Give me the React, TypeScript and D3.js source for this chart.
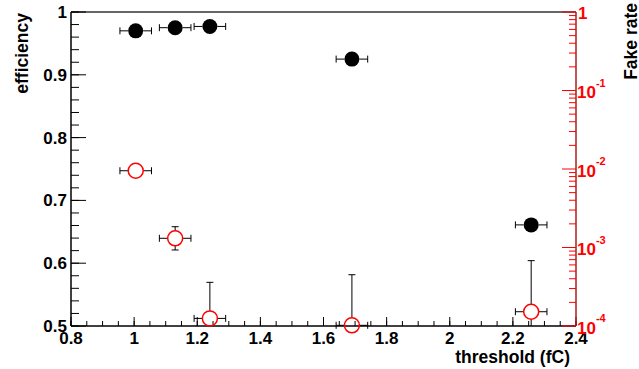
import React from "react";
import * as d3 from "d3";

// ---- data ----
const thresholds = [1.005, 1.13, 1.24, 1.69, 2.258];
const thresholdErr = [0.05, 0.05, 0.05, 0.05, 0.05];
const efficiency = [0.970, 0.975, 0.977, 0.925, 0.661];
const efficiencyErr = [0.003, 0.003, 0.003, 0.004, 0.006];
const fakeRate = [0.0095, 0.00131, 0.000125, 0.000102, 0.000152];
const fakeRateHigh = [0.0105, 0.00184, 0.00036, 0.00045, 0.00068];
const fakeRateLow = [0.0086, 0.00093, 0.00005, 0.00005, 0.00005];

const xTickValues = [0.8, 1.0, 1.2, 1.4, 1.6, 1.8, 2.0, 2.2, 2.4];
const xTickLabels = ["0.8", "1", "1.2", "1.4", "1.6", "1.8", "2", "2.2", "2.4"];
const yTickValues = [0.5, 0.6, 0.7, 0.8, 0.9, 1.0];
const yTickLabels = ["0.5", "0.6", "0.7", "0.8", "0.9", "1"];
const rightExponents = [-4, -3, -2, -1, 0];

const W = 639;
const H = 369;
const L = 71, R = 576, T = 12, B = 326;
const FONT = "'Liberation Sans', Arial, Helvetica, sans-serif";
const RED = "#ff0000";
const AXRED = "#b01c1c";

export default function App() {
  const x = d3.scaleLinear().domain([0.8, 2.4]).range([L, R]);
  const yL = d3.scaleLinear().domain([0.5, 1]).range([B, T]);
  const yR = d3.scaleLog().domain([1e-4, 1]).range([B, T]);

  const xMinor = d3.range(0, 33).map((i) => 0.8 + i * 0.05);
  const yMinor = d3.range(0, 26).map((i) => 0.5 + i * 0.02);
  const rMinor: number[] = [];
  for (let e = -4; e < 0; e++) for (let k = 2; k <= 9; k++) rMinor.push(k * Math.pow(10, e));

  const r = 7.5;
  const cap = 3.5;

  return (
    <svg width={W} height={H} style={{ position: "absolute", left: 0, top: 0, background: "#fff" }}
      fontFamily={FONT} fontWeight="bold">
      <rect x={0} y={0} width={W} height={H} fill="#fff" />
      {/* frame */}
      <line x1={L} y1={T} x2={R} y2={T} stroke="#333" strokeWidth={1.5} />
      <line x1={L} y1={B} x2={R} y2={B} stroke="#000" strokeWidth={1.5} />
      <line x1={L} y1={T} x2={L} y2={B} stroke="#000" strokeWidth={1.5} />

      {/* bottom axis ticks */}
      {xMinor.map((v, i) => (
        <line key={"xm" + i} x1={x(v)} x2={x(v)} y1={B} y2={B - 5} stroke="#000" strokeWidth={1} />
      ))}
      {xTickValues.map((v, i) => (
        <g key={"xt" + i}>
          <line x1={x(v)} x2={x(v)} y1={B} y2={B - 9} stroke="#000" strokeWidth={1} />
          <text x={x(v)} y={344} textAnchor="middle" fontSize={17} fill="#000">{xTickLabels[i]}</text>
        </g>
      ))}

      {/* left axis ticks */}
      {yMinor.map((v, i) => (
        <line key={"ym" + i} x1={L} x2={L + 8} y1={yL(v)} y2={yL(v)} stroke="#000" strokeWidth={1} />
      ))}
      {yTickValues.map((v, i) => (
        <g key={"yt" + i}>
          <line x1={L} x2={L + 15} y1={yL(v)} y2={yL(v)} stroke="#000" strokeWidth={1} />
          <text x={67} y={yL(v) + 6} textAnchor="end" fontSize={17} fill="#000">{yTickLabels[i]}</text>
        </g>
      ))}

      {/* right axis */}
      {rMinor.map((v, i) => (
        <line key={"rm" + i} x1={R} x2={R - 7} y1={yR(v)} y2={yR(v)} stroke={RED} strokeWidth={1} />
      ))}
      {rightExponents.map((e) => {
        const yy = yR(Math.pow(10, e));
        return (
          <g key={"rt" + e}>
            <line x1={R} x2={R - 14} y1={yy} y2={yy} stroke={RED} strokeWidth={1} />
            {e === 0 ? (
              <text x={578} y={yy + 7} fontSize={17} fill={RED}>1</text>
            ) : (
              <text x={577} y={yy + 7.5} fontSize={17} fill={RED}>
                10
                <tspan fontSize={11} dy={-11.5}>{String(e)}</tspan>
              </text>
            )}
          </g>
        );
      })}
      <line x1={R} y1={T} x2={R} y2={B} stroke={AXRED} strokeWidth={1.5} />

      {/* axis titles */}
      <text x={570} y={363} textAnchor="end" fontSize={17.5} fill="#000">threshold (fC)</text>
      <text transform={`translate(28,13) rotate(-90)`} textAnchor="end" fontSize={17.5} fill="#000">efficiency</text>
      <text transform={`translate(637,3) rotate(-90)`} textAnchor="end" fontSize={17.5} fill="#000">Fake rate</text>

      {/* efficiency points */}
      {thresholds.map((t, i) => {
        const cx = x(t), cy = yL(efficiency[i]);
        const x0 = x(t - thresholdErr[i]), x1 = x(t + thresholdErr[i]);
        const yu = yL(efficiency[i] + efficiencyErr[i]), yd = yL(efficiency[i] - efficiencyErr[i]);
        return (
          <g key={"e" + i} stroke="#000" strokeWidth={1}>
            <line x1={x0} x2={cx - r} y1={cy} y2={cy} />
            <line x1={cx + r} x2={x1} y1={cy} y2={cy} />
            <line x1={x0} x2={x0} y1={cy - cap} y2={cy + cap} />
            <line x1={x1} x2={x1} y1={cy - cap} y2={cy + cap} />
            {yu < cy - r && <line x1={cx} x2={cx} y1={yu} y2={cy - r} />}
            {yd > cy + r && <line x1={cx} x2={cx} y1={cy + r} y2={yd} />}
            <circle cx={cx} cy={cy} r={r} fill="#000" stroke="none" />
          </g>
        );
      })}

      {/* fake rate points */}
      {thresholds.map((t, i) => {
        const cx = x(t), cy = yR(fakeRate[i]);
        const x0 = x(t - thresholdErr[i]), x1 = x(t + thresholdErr[i]);
        const yu = yR(fakeRateHigh[i]);
        const ydRaw = yR(fakeRateLow[i]);
        const yd = Math.min(ydRaw, B);
        return (
          <g key={"f" + i}>
            <g stroke="#000" strokeWidth={1}>
              <line x1={x0} x2={cx - r} y1={cy} y2={cy} />
              <line x1={cx + r} x2={x1} y1={cy} y2={cy} />
              <line x1={x0} x2={x0} y1={cy - cap} y2={cy + cap} />
              <line x1={x1} x2={x1} y1={cy - cap} y2={cy + cap} />
              {yu < cy - r && (
                <>
                  <line x1={cx} x2={cx} y1={yu} y2={cy - r} />
                  <line x1={cx - cap} x2={cx + cap} y1={yu} y2={yu} />
                </>
              )}
              {yd > cy + r && (
                <>
                  <line x1={cx} x2={cx} y1={cy + r} y2={yd} />
                  {ydRaw <= B && <line x1={cx - cap} x2={cx + cap} y1={yd} y2={yd} />}
                </>
              )}
            </g>
            <circle cx={cx} cy={cy} r={r} fill="none" stroke={RED} strokeWidth={1.5} />
          </g>
        );
      })}
    </svg>
  );
}
